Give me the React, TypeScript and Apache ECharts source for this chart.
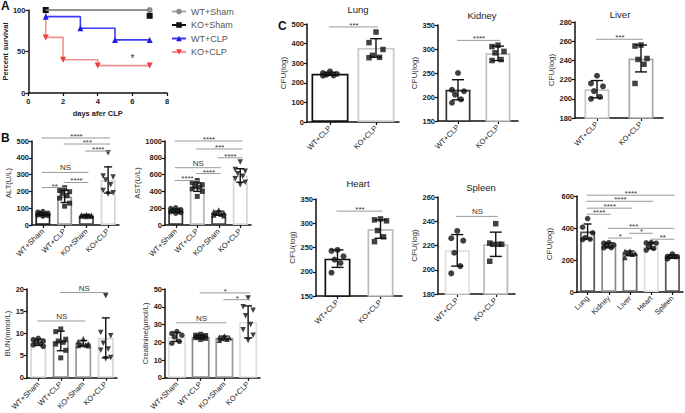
import React, { useEffect, useRef } from "react";
import * as echarts from "echarts";

const FONT = '"Liberation Sans", Arial, Helvetica, sans-serif';

// ---------------- Panel A : survival ----------------
const survivalNames = ["WT+Sham", "KO+Sham", "WT+CLP", "KO+CLP"];
const wtShamSurvival = [[1, 100], [7, 100]];
const koShamSurvival = [[1, 100], [7, 93]];
const wtClpSurvival = [[1, 100], [1, 92], [3, 78], [5, 64], [7, 64]];
const koClpSurvival = [[1, 100], [1, 67], [2, 40], [4, 33], [7, 33]];
const survivalStar = [[6, 42]];

// ---------------- Panel B : serum biochemistry ----------------
const groupsB = ["WT+Sham", "WT+CLP", "KO+Sham", "KO+CLP"];

const altMean = [65, 170, 57, 268];
const altSD = [9, 36, 5, 78];
const altPoints = [
  [80, 76, 70, 67, 63, 60, 57, 53],
  [222, 205, 198, 188, 175, 160, 130, 112],
  [62, 60, 58, 57, 56, 54, 52, 50],
  [430, 292, 285, 268, 240, 205, 192, 185],
];
const altSig: [number, number, number, string][] = [
  [0, 3, 518, "****"], [1, 3, 482, "***"], [2, 3, 440, "****"],
  [0, 2, 313, "NS"], [0, 1, 223, "**"], [1, 2, 253, "****"],
];

const astMean = [170, 450, 140, 590];
const astSD = [20, 50, 25, 80];
const astPoints = [
  [205, 195, 182, 172, 165, 158, 150, 140],
  [530, 505, 480, 460, 450, 430, 400, 340],
  [178, 160, 150, 140, 128, 118, 110],
  [750, 660, 640, 610, 580, 550, 510, 480],
];
const astSig: [number, number, number, string][] = [
  [0, 3, 1000, "****"], [1, 3, 905, "***"], [2, 3, 800, "****"],
  [0, 2, 682, "NS"], [1, 2, 612, "****"], [0, 1, 530, "****"],
];

const bunMean = [8, 8.3, 7.8, 9];
const bunSD = [0.7, 2.2, 0.6, 4.5];
const bunPoints = [
  [8.9, 8.6, 8.3, 8.0, 7.7, 7.4, 7.1],
  [11, 10.4, 8.7, 8.3, 8.0, 7.6, 6.2, 4.5],
  [8.8, 8.2, 7.7, 7.5, 7.4, 7.3, 7.2],
  [18.5, 10.2, 9.5, 7.8, 6.5, 6.2, 4.6, 4.3],
];
const bunSig: [number, number, number, string][] = [
  [0, 2, 12.8, "NS"], [1, 3, 19.2, "NS"],
];

const creMean = [23, 23, 22.5, 31.5];
const creSD = [2.5, 1, 1, 9];
const crePoints = [
  [26, 25, 24, 23, 20.5, 19.5],
  [24.5, 24, 23.8, 23.3, 23, 22.6, 22.2, 21.6],
  [23.6, 23, 22.6, 22.2, 21.7, 21.2],
  [45, 40, 38, 35, 30, 27, 24, 21],
];
const creSig: [number, number, number, string][] = [
  [0, 2, 31, "NS"], [1, 3, 47.8, "*"], [2, 3, 44, "*"],
];

// ---------------- Panel C : bacterial load ----------------
const groupsC = ["WT+CLP", "KO+CLP"];
const organs = ["Lung", "Kidney", "Liver", "Heart", "Spleen"];

const lungMean = [246, 378];
const lungSD = [8, 47];
const lungWT = [258, 250, 245, 241, 238, 236];
const lungKO = [459, 405, 370, 340, 330, 328];

const kidneyMean = [215, 291];
const kidneySD = [21, 15];
const kidneyWT = [250, 215, 212, 205, 195, 188];
const kidneyKO = [308, 305, 295, 292, 278, 276];

const liverMean = [210, 242];
const liverSD = [9, 14];
const liverWT = [224, 216, 213, 208, 202, 200];
const liverKO = [256, 255, 242, 241, 236, 216];

const heartMean = [227, 288];
const heartSD = [18, 19];
const heartWT = [245, 243, 232, 225, 218, 198];
const heartKO = [309, 307, 305, 285, 272, 262];

const spleenMean = [216, 221];
const spleenSD = [13, 10];
const spleenWT = [232, 226, 224, 214, 203, 197];
const spleenKO = [238, 222, 221, 221, 221, 207];

const organMean = [378, 291, 242, 288, 221];
const organSD = [47, 15, 14, 19, 10];
const organSig: [number, number, number, string][] = [
  [0, 4, 605, "****"], [0, 3, 567, "****"], [0, 2, 524, "****"], [0, 1, 486, "****"],
  [1, 4, 398, "***"], [1, 2, 337, "*"], [2, 3, 367, "*"], [3, 4, 330, "**"],
];

// ---------------- layout & styles ----------------
type Box = { left: number; top: number; width: number; height: number };
type Panel = {
  box: Box;
  categories: string[];
  means: number[];
  sds: number[];
  points: number[][];
  sig: [number, number, number, string][];
  sigDx?: number[];
  min: number;
  max: number;
  interval: number;
  yName: string;
  nameGap: number;
  nameSize: number;
  barWidth: number;
  borders: string[];
  symbols: string[];
  spread: number;
  cap: number;
  dot: number;
};

const JITTER = [0, -1, 1, -0.5, 0.5, -1, 1, 0];
const ORGAN_SIG_DX = [0, 0, 0, 0, -8, 0, 0, 0];

const AXIS_LINE = { show: true, lineStyle: { color: "#111", width: 1.5 } };
const AXIS_TICK = { show: true, length: 3, lineStyle: { color: "#111", width: 1.2 } };

function addPanel(opt: any, idx: number, p: Panel) {
  opt.grid.push({ ...p.box });
  opt.xAxis.push({
    gridIndex: idx,
    type: "category",
    data: p.categories,
    axisLine: AXIS_LINE,
    axisTick: { ...AXIS_TICK, alignWithLabel: true },
    axisLabel: { rotate: 45, fontSize: 7.5, color: "#222", margin: 5, interval: 0, fontFamily: FONT },
  });
  opt.yAxis.push({
    gridIndex: idx,
    type: "value",
    min: p.min,
    max: p.max,
    interval: p.interval,
    name: p.yName,
    nameLocation: "middle",
    nameGap: p.nameGap,
    nameTextStyle: { fontSize: p.nameSize, color: "#333", fontFamily: FONT },
    axisLine: AXIS_LINE,
    axisTick: AXIS_TICK,
    splitLine: { show: false },
    axisLabel: {
      fontSize: 7.5, fontWeight: "bold", color: "#222", margin: 3, fontFamily: FONT,
      formatter: (v: number) => String(v),
    },
  });
  opt.series.push({
    type: "bar",
    xAxisIndex: idx,
    yAxisIndex: idx,
    barWidth: p.barWidth,
    silent: true,
    z: 2,
    data: p.means.map((m, i) => ({
      value: m,
      itemStyle: { color: "#fff", borderColor: p.borders[i], borderWidth: 1.7 },
    })),
  });
  const cap = p.cap;
  opt.series.push({
    type: "custom",
    xAxisIndex: idx,
    yAxisIndex: idx,
    silent: true,
    z: 5,
    encode: { x: 0, y: 1 },
    data: p.means.map((m, i) => [i, m, p.sds[i]]),
    renderItem: (_params: any, api: any) => {
      const c = api.value(0);
      const m = api.value(1);
      const s = api.value(2);
      const top = api.coord([c, m + s]);
      const bot = api.coord([c, m - s]);
      const st = { stroke: "#111", lineWidth: 1.4 };
      return {
        type: "group",
        children: [
          { type: "line", shape: { x1: top[0], y1: top[1], x2: bot[0], y2: bot[1] }, style: st },
          { type: "line", shape: { x1: top[0] - cap, y1: top[1], x2: top[0] + cap, y2: top[1] }, style: st },
          { type: "line", shape: { x1: bot[0] - cap, y1: bot[1], x2: bot[0] + cap, y2: bot[1] }, style: st },
        ],
      };
    },
  });
  const pts: any[] = [];
  p.points.forEach((arr, i) => {
    const sym = p.symbols[i];
    arr.forEach((v, j) => {
      pts.push({
        value: [i, v],
        symbol: sym === "down" ? "triangle" : sym,
        symbolRotate: sym === "down" ? 180 : 0,
        symbolSize: sym === "rect" ? p.dot - 0.5 : p.dot,
        symbolOffset: [JITTER[j % JITTER.length] * p.spread, 0],
      });
    });
  });
  opt.series.push({
    type: "scatter",
    xAxisIndex: idx,
    yAxisIndex: idx,
    silent: true,
    z: 4,
    itemStyle: { color: "#111" },
    data: pts,
  });
  const sig = p.sig;
  const dx = p.sigDx || [];
  opt.series.push({
    type: "custom",
    xAxisIndex: idx,
    yAxisIndex: idx,
    silent: true,
    z: 6,
    encode: { x: 0, y: 1 },
    data: sig.map((s) => [s[0], s[2], s[1]]),
    renderItem: (params: any, api: any) => {
      const a = api.coord([api.value(0), api.value(1)]);
      const b = api.coord([api.value(2), api.value(1)]);
      const label = sig[params.dataIndex][3];
      const isNS = label === "NS";
      return {
        type: "group",
        children: [
          { type: "line", shape: { x1: a[0] - 1, y1: a[1], x2: b[0] + 2, y2: a[1] }, style: { stroke: "#9a9a9a", lineWidth: 1 } },
          {
            type: "text",
            style: {
              text: label,
              x: (a[0] + b[0]) / 2 + 1 + (dx[params.dataIndex] || 0),
              y: a[1] + (isNS ? -0.5 : 2.5),
              fill: "#333",
              font: "8px " + FONT,
              align: "center",
              verticalAlign: "bottom",
            },
          },
        ],
      };
    },
  });
}

function buildOption() {
  const opt: any = {
    animation: false,
    textStyle: { fontFamily: FONT },
    grid: [],
    xAxis: [],
    yAxis: [],
    series: [],
  };

  // ---- Panel A
  opt.grid.push({ left: 28, top: 10, width: 139, height: 83 });
  opt.xAxis.push({
    gridIndex: 0,
    type: "value",
    min: 0,
    max: 8,
    interval: 2,
    name: "days afer CLP",
    nameLocation: "middle",
    nameGap: 16,
    nameTextStyle: { fontSize: 7.5, fontWeight: "bold", color: "#222", fontFamily: FONT },
    axisLine: AXIS_LINE,
    axisTick: AXIS_TICK,
    splitLine: { show: false },
    axisLabel: { fontSize: 7.5, fontWeight: "bold", color: "#222", margin: 4, fontFamily: FONT },
  });
  opt.yAxis.push({
    gridIndex: 0,
    type: "value",
    min: 0,
    max: 100,
    interval: 50,
    name: "Percent survival",
    nameLocation: "middle",
    nameGap: 17,
    nameTextStyle: { fontSize: 7.5, fontWeight: "bold", color: "#222", fontFamily: FONT },
    axisLine: AXIS_LINE,
    axisTick: AXIS_TICK,
    splitLine: { show: false },
    axisLabel: { fontSize: 7.5, fontWeight: "bold", color: "#222", margin: 3, fontFamily: FONT },
  });
  const survSeries = [
    { name: survivalNames[0], data: wtShamSurvival, line: "#a8a8a8", mark: "#8c8c8c", symbol: "circle", rot: 0, skipFirst: true, z: 4 },
    { name: survivalNames[1], data: koShamSurvival, line: "#111111", mark: "#111111", symbol: "rect", rot: 0, skipFirst: false, z: 3 },
    { name: survivalNames[2], data: wtClpSurvival, line: "#3b3bf2", mark: "#1c1ce6", symbol: "triangle", rot: 0, skipFirst: true, z: 3 },
    { name: survivalNames[3], data: koClpSurvival, line: "#f39090", mark: "#f23c3c", symbol: "triangle", rot: 180, skipFirst: true, z: 3 },
  ];
  survSeries.forEach((s) => {
    opt.series.push({
      type: "line",
      name: s.name,
      xAxisIndex: 0,
      yAxisIndex: 0,
      step: "end",
      symbol: s.symbol,
      symbolRotate: s.rot,
      symbolSize: 6,
      showAllSymbol: true,
      z: s.z,
      lineStyle: { color: s.line, width: 1.6 },
      itemStyle: { color: s.mark },
      data: s.data.map((d, i) => (s.skipFirst && i === 0 ? { value: d, symbol: "none" } : { value: d })),
    });
  });
  opt.series.push({
    type: "custom",
    xAxisIndex: 0,
    yAxisIndex: 0,
    silent: true,
    encode: { x: 0, y: 1 },
    data: survivalStar,
    renderItem: (_p: any, api: any) => {
      const c = api.coord([api.value(0), api.value(1)]);
      return { type: "text", style: { text: "*", x: c[0], y: c[1], fill: "#333", font: "10px " + FONT, align: "center", verticalAlign: "middle" } };
    },
  });
  opt.legend = {
    data: survivalNames,
    orient: "vertical",
    left: 166,
    top: 2,
    itemWidth: 14,
    itemHeight: 7,
    itemGap: 4.5,
    textStyle: { fontSize: 9, color: "#555", fontFamily: FONT },
  };

  const symB = ["circle", "rect", "triangle", "down"];
  const panels: Panel[] = [
    {
      box: { left: 32, top: 141, width: 87, height: 84 }, categories: groupsB,
      means: altMean, sds: altSD, points: altPoints, sig: altSig,
      min: 0, max: 500, interval: 100, yName: "ALT(U/L)", nameGap: 15, nameSize: 7.5,
      barWidth: 15, borders: ["#222", "#9a9a9a", "#444", "#d6d6d6"], symbols: symB, spread: 5, cap: 4, dot: 5.5,
    },
    {
      box: { left: 165, top: 141, width: 86, height: 84 }, categories: groupsB,
      means: astMean, sds: astSD, points: astPoints, sig: astSig,
      min: 0, max: 1000, interval: 200, yName: "AST(U/L)", nameGap: 18, nameSize: 7.5,
      barWidth: 15, borders: ["#333", "#b8b8b8", "#444", "#d6d6d6"], symbols: symB, spread: 5, cap: 4, dot: 5.5,
    },
    {
      box: { left: 27, top: 289, width: 90, height: 92 }, categories: groupsB,
      means: bunMean, sds: bunSD, points: bunPoints, sig: bunSig,
      min: 0, max: 20, interval: 5, yName: "BUN(mmol/L)", nameGap: 13, nameSize: 7.5,
      barWidth: 16, borders: ["#d8d8d8", "#8a8a8a", "#9a9a9a", "#d8d8d8"], symbols: symB, spread: 5, cap: 4, dot: 5.5,
    },
    {
      box: { left: 165, top: 289, width: 95, height: 92 }, categories: groupsB,
      means: creMean, sds: creSD, points: crePoints, sig: creSig,
      min: 0, max: 50, interval: 10, yName: "Creatinine(μmol/L)", nameGap: 11.5, nameSize: 7.5,
      barWidth: 18, borders: ["#e0e0e0", "#8a8a8a", "#9a9a9a", "#e0e0e0"], symbols: symB, spread: 5, cap: 4, dot: 5.5,
    },
    {
      box: { left: 307, top: 24, width: 92, height: 98 }, categories: groupsC,
      means: lungMean, sds: lungSD, points: [lungWT, lungKO], sig: [[0, 1, 485, "***"]],
      min: 0, max: 500, interval: 100, yName: "CFU(log)", nameGap: 15, nameSize: 8,
      barWidth: 37, borders: ["#111", "#c8c8c8"], symbols: ["circle", "rect"], spread: 7, cap: 6, dot: 6,
    },
    {
      box: { left: 438, top: 25, width: 80, height: 96 }, categories: groupsC,
      means: kidneyMean, sds: kidneySD, points: [kidneyWT, kidneyKO], sig: [[0, 1, 318, "****"]],
      min: 150, max: 350, interval: 50, yName: "CFU(log)", nameGap: 16, nameSize: 8,
      barWidth: 25, borders: ["#333", "#c0c0c0"], symbols: ["circle", "rect"], spread: 6, cap: 6, dot: 6,
    },
    {
      box: { left: 575, top: 22, width: 88, height: 96 }, categories: groupsC,
      means: liverMean, sds: liverSD, points: [liverWT, liverKO], sig: [[0, 1, 262, "***"]],
      min: 180, max: 280, interval: 20, yName: "CFU(log)", nameGap: 15, nameSize: 8,
      barWidth: 25, borders: ["#c8c8c8", "#a8a8a8"], symbols: ["circle", "rect"], spread: 6, cap: 6, dot: 6,
    },
    {
      box: { left: 316, top: 199, width: 86, height: 97 }, categories: groupsC,
      means: heartMean, sds: heartSD, points: [heartWT, heartKO], sig: [[0, 1, 325, "***"]],
      min: 150, max: 350, interval: 50, yName: "CFU(log)", nameGap: 20, nameSize: 8,
      barWidth: 26, borders: ["#111", "#bbbbbb"], symbols: ["circle", "rect"], spread: 6, cap: 6, dot: 6,
    },
    {
      box: { left: 438, top: 197, width: 77, height: 97 }, categories: groupsC,
      means: spleenMean, sds: spleenSD, points: [spleenWT, spleenKO], sig: [[0, 1, 244, "NS"]],
      min: 180, max: 260, interval: 20, yName: "CFU(log)", nameGap: 17, nameSize: 8,
      barWidth: 25, borders: ["#e0e0e0", "#bbbbbb"], symbols: ["circle", "rect"], spread: 6, cap: 6, dot: 6,
    },
    {
      box: { left: 577, top: 196, width: 106, height: 96 }, categories: organs,
      means: organMean, sds: organSD, points: [lungKO, kidneyKO, liverKO, heartKO, spleenKO],
      sig: organSig, sigDx: ORGAN_SIG_DX,
      min: 0, max: 600, interval: 200, yName: "CFU(log)", nameGap: 23.5, nameSize: 8,
      barWidth: 15, borders: ["#555", "#8a8a8a", "#666", "#dddddd", "#555"],
      symbols: ["circle", "circle", "triangle", "circle", "circle"], spread: 5, cap: 4, dot: 5.5,
    },
  ];
  panels.forEach((p, k) => addPanel(opt, k + 1, p));

  const title = (text: string, x: number, y: number) => ({
    type: "text",
    style: { text, x, y, fill: "#222", font: "9.5px " + FONT, align: "center", verticalAlign: "middle" },
  });
  const letter = (text: string, x: number, y: number) => ({
    type: "text",
    style: { text, x, y, fill: "#111", font: "bold 12px " + FONT, align: "left", verticalAlign: "middle" },
  });
  opt.graphic = [
    letter("A", 1, 6),
    letter("B", 1, 138),
    letter("C", 278, 26),
    title(organs[0], 358, 9),
    title(organs[1], 482, 15),
    title(organs[2], 620, 14),
    title(organs[3], 358, 183),
    title(organs[4], 481, 187),
  ];
  return opt;
}

export default function App() {
  const ref = useRef<HTMLDivElement>(null);
  useEffect(() => {
    const chart = echarts.init(ref.current!, null, { renderer: "svg" });
    chart.setOption(buildOption());
    return () => chart.dispose();
  }, []);
  return (
    <div
      ref={ref}
      style={{ position: "absolute", left: 0, top: 0, width: 685, height: 413, background: "#fff" }}
    />
  );
}
